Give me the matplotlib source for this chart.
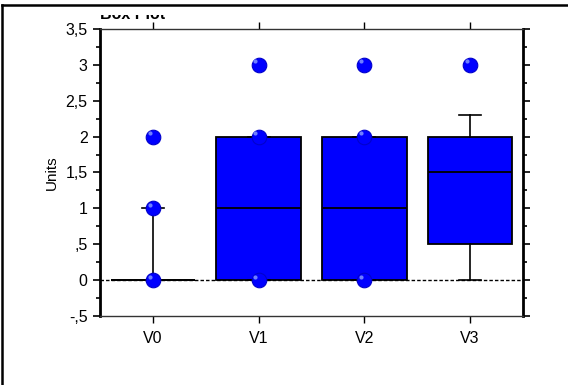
import matplotlib
matplotlib.use("Agg")
import matplotlib.pyplot as plt
from matplotlib.lines import Line2D
from matplotlib.transforms import Bbox
from matplotlib.ticker import MultipleLocator

plt.rcParams['font.family'] = ['Liberation Sans', 'DejaVu Sans']

# Box statistics
categories = ['V0', 'V1', 'V2', 'V3']
medians = [0, 1, 1, 1.5]
q1 = [0, 0, 0, 0.5]
q3 = [0, 2, 2, 2]
whisker_low = [0, 0, 0, 0]
whisker_high = [1, 2, 2, 2.3]

# Individual points shown as dots
points = [[0, 1, 2], [0, 2, 3], [0, 2, 3], [3]]

ytick_values = [-0.5, 0, 0.5, 1, 1.5, 2, 2.5, 3, 3.5]
ytick_labels = ['-,5', '0', ',5', '1', '1,5', '2', '2,5', '3', '3,5']

fig = plt.figure(figsize=(5.68, 3.85), dpi=100)
ax = fig.add_axes([100 / 568, 69 / 385, 423 / 568, 287 / 385])

stats = []
for i, name in enumerate(categories):
    stats.append({'label': name, 'med': medians[i], 'q1': q1[i], 'q3': q3[i],
                  'whislo': whisker_low[i], 'whishi': whisker_high[i], 'fliers': []})

positions = list(range(len(categories)))

# reference line at zero
ax.axhline(0, color='black', lw=1.0, linestyle=(0, (2.5, 1.5)), zorder=1)

ax.bxp(stats, positions=positions, widths=0.8, patch_artist=True, showfliers=False,
       boxprops=dict(facecolor='#0000ff', edgecolor='black', linewidth=1.3),
       medianprops=dict(color='black', linewidth=1.3),
       whiskerprops=dict(color='black', linewidth=1.2),
       capprops=dict(color='black', linewidth=1.2),
       capwidths=0.21, zorder=2)

for i, vals in enumerate(points):
    ax.plot([positions[i]] * len(vals), vals, 'o', color='#0000ff', markersize=10.5,
            markeredgecolor='#0000cc', markeredgewidth=0.8, zorder=4, clip_on=False)
    ax.plot([positions[i] - 0.03] * len(vals), [v + 0.05 for v in vals], 'o',
            color='#6f7fff', markersize=3, markeredgewidth=0, zorder=5, clip_on=False)

ax.set_xlim(-0.5, 3.5)
ax.set_ylim(-0.5, 3.5)
ax.set_xticks(positions)
ax.set_xticklabels(categories, fontsize=11.5)
ax.set_yticks(ytick_values)
ax.set_yticklabels(ytick_labels, fontsize=11.5)
ax.yaxis.set_minor_locator(MultipleLocator(0.25))
ax.set_ylabel('Units', fontsize=11, labelpad=5)

ax.tick_params(axis='y', which='both', direction='out', left=True, right=True,
               width=1.2, color='black', pad=4)
ax.tick_params(axis='y', which='major', length=5)
ax.tick_params(axis='y', which='minor', length=3)
ax.tick_params(axis='x', which='major', direction='out', top=True, bottom=True,
               length=5, width=1.0, pad=6)

ax.spines['left'].set_linewidth(2)
ax.spines['right'].set_linewidth(2)
ax.spines['top'].set_linewidth(1)
ax.spines['bottom'].set_linewidth(1)
ax.spines['top'].set_color('#333333')
ax.spines['bottom'].set_color('#333333')

# title, partly hidden at the top as in the source
title = fig.text(100 / 568, 1 - 19 / 385, 'Box Plot', fontsize=11.5, fontweight='bold',
                 ha='left', va='baseline')
title.set_clip_box(Bbox([[0, 0], [568, 385 - 15]]))
title.set_clip_on(True)

# outer frame lines (left and top only)
fig.add_artist(Line2D([2 / 568, 2 / 568], [0, 1 - 5 / 385], color='black', lw=1.8,
                      transform=fig.transFigure))
fig.add_artist(Line2D([2 / 568, 1], [1 - 5 / 385, 1 - 5 / 385], color='black', lw=1.8,
                      transform=fig.transFigure))

fig.savefig('out.png', dpi=100)
